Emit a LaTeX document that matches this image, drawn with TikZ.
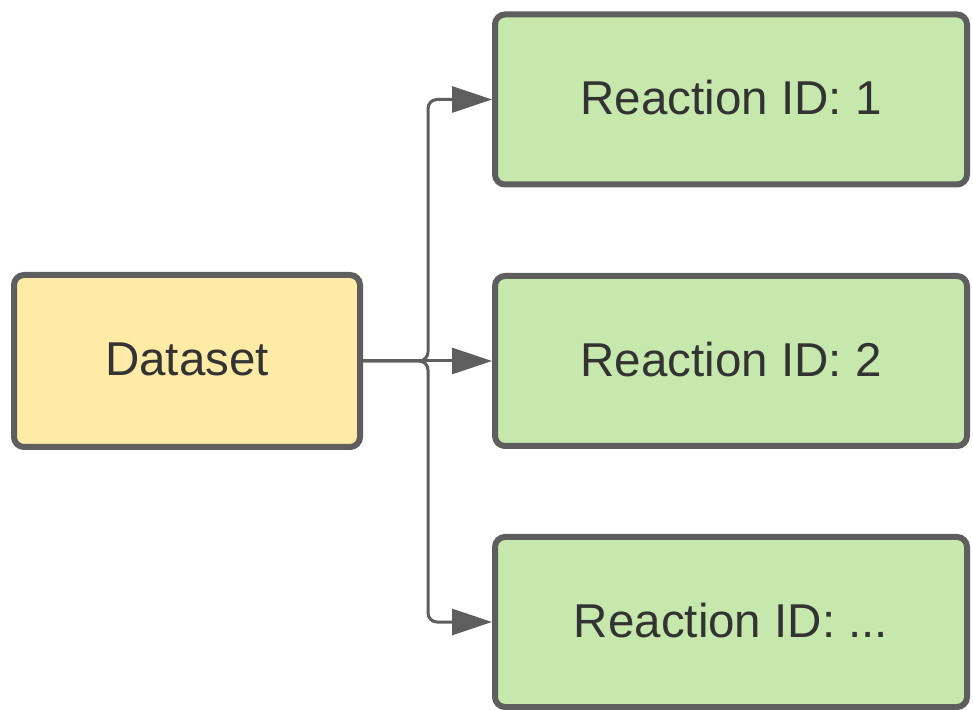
\documentclass[tikz,border=0pt]{standalone}
\usepackage{fontspec}
\setmainfont{Liberation Sans}
\usetikzlibrary{arrows.meta}
\definecolor{edge}{HTML}{5E5E5E}
\definecolor{yfill}{HTML}{FFEAA6}
\definecolor{gfill}{HTML}{C7E8AD}
\definecolor{txt}{HTML}{333333}
\newcommand{\up}[1]{\raisebox{4pt}{#1}}
\tikzset{
  box/.style={draw=edge, line width=6pt, rounded corners=10pt, text=txt,
    font=\fontsize{47.5}{52}\selectfont, inner sep=0pt},
  dbox/.style={box, fill=yfill, minimum width=346pt, minimum height=172pt},
  rbox/.style={box, fill=gfill, minimum width=472pt, minimum height=170pt},
  conn/.style={draw=edge, line width=3pt, rounded corners=9pt,
    -{Triangle[length=40pt, width=26pt]}}
}
\begin{document}
\begin{tikzpicture}[x=1pt, y=1pt]
\useasboundingbox (0,0) rectangle (973,709);
\node[dbox] (d) at (187,348) {\up{Dataset}};
\node[rbox] (r1) at (731,609.5) {\up{Reaction ID: 1}};
\node[rbox] (r2) at (731,348) {\up{Reaction ID: 2}};
\node[rbox] (r3) at (731,87) {\up{Reaction ID: ...}};
\coordinate (j) at (428,348);
\draw[conn] (d.east) -- (j) |- (r1.west);
\draw[conn] (d.east) -- (j) |- (r3.west);
\draw[conn] (d.east) -- (r2.west);
\end{tikzpicture}
\end{document}
